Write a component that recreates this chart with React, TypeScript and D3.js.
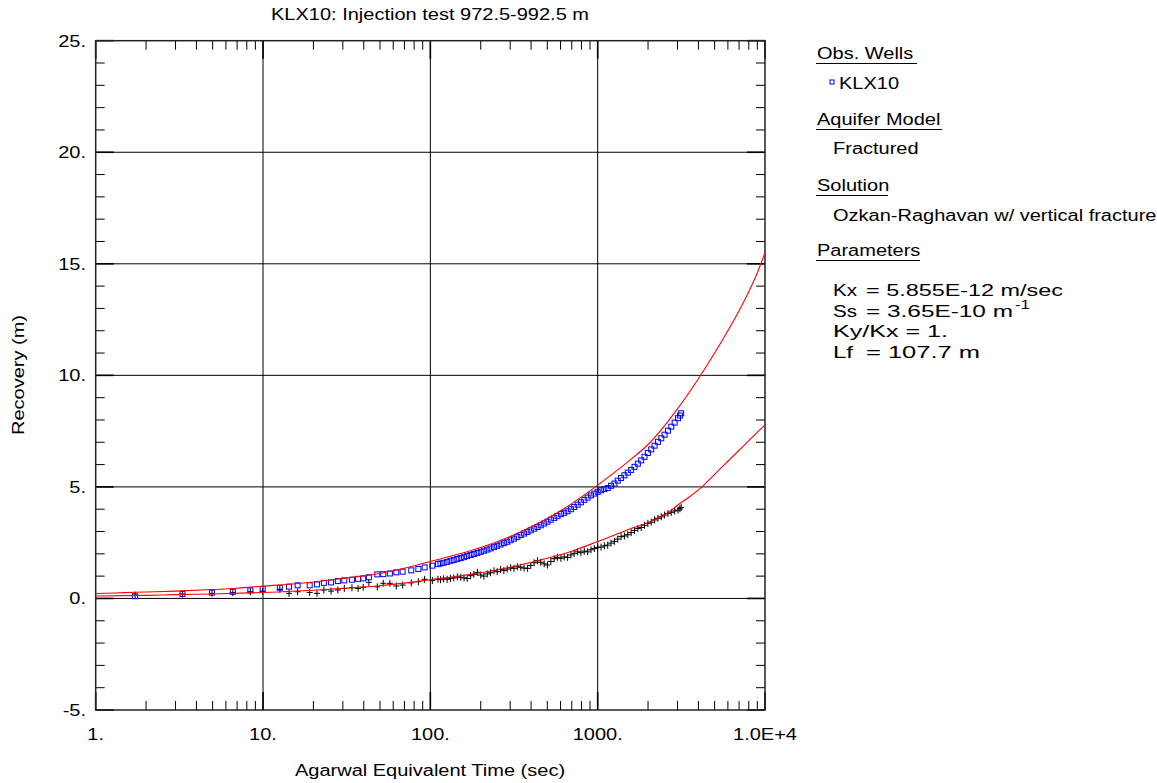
import React from "react";
import * as d3 from "d3";

// ---- data ----
const timeSec: number[] = [
  1.72, 3.3, 4.95, 6.6, 8.4, 9.95, 12.6, 14.3, 16.1, 19.0, 21.0, 23.1, 25.5, 28.0, 30.6, 34.0, 37.0, 39.7,
  42.9, 48.2, 52.3, 57.3, 62.6, 68.3, 76.9, 84.8, 92.4, 102.8, 111,
  115, 120, 126, 132, 138, 145, 152, 159, 166, 174, 182, 191, 200, 209, 219, 229, 240, 251, 263, 275,
  288, 302, 316, 331, 347, 363, 380, 398, 417, 437, 457, 479, 501, 525, 550, 575, 603, 631, 661, 692,
  724, 759, 794, 832, 871, 912, 955, 1000, 1047, 1096, 1148, 1202, 1259, 1318, 1380, 1445, 1514, 1585,
  1660, 1738, 1820, 1905, 1995, 2089, 2188, 2291, 2399, 2512, 2630, 2754, 2884, 3020, 3100, 3155,
];

const recoveryKLX10: number[] = [
  0.10, 0.20, 0.26, 0.30, 0.36, 0.43, 0.48, 0.53, 0.59, 0.59, 0.63, 0.70, 0.72, 0.78, 0.81, 0.84, 0.88, 0.90,
  0.95, 1.08, 1.09, 1.12, 1.17, 1.20, 1.26, 1.32, 1.39, 1.47, 1.54,
  1.57, 1.60, 1.64, 1.69, 1.72, 1.77, 1.81, 1.85, 1.90, 1.95, 1.99, 2.04, 2.09, 2.14, 2.19, 2.24, 2.30, 2.36, 2.42, 2.48,
  2.54, 2.61, 2.68, 2.76, 2.84, 2.91, 2.98, 3.05, 3.13, 3.20, 3.28, 3.36, 3.44, 3.53, 3.61, 3.69, 3.78, 3.84, 3.91, 4.00,
  4.10, 4.20, 4.31, 4.42, 4.52, 4.62, 4.70, 4.78, 4.85, 4.90, 4.95, 5.05, 5.15, 5.28, 5.40, 5.52, 5.64, 5.76,
  5.90, 6.04, 6.19, 6.35, 6.52, 6.68, 6.85, 7.02, 7.18, 7.34, 7.52, 7.70, 7.88, 8.08, 8.20, 8.30,
];

const recoverySecond: number[] = [
  0.15, 0.20, 0.23, 0.26, 0.30, 0.32, 0.41, 0.23, 0.30, 0.27, 0.23, 0.38, 0.33, 0.38, 0.45, 0.48, 0.45, 0.50,
  0.72, 0.52, 0.68, 0.68, 0.56, 0.60, 0.70, 0.75, 0.86, 0.80, 0.86,
  0.84, 0.88, 0.86, 0.90, 0.92, 0.97, 0.95, 0.92, 0.90, 1.02, 1.08, 1.17, 1.05, 1.00, 1.10, 1.15, 1.24, 1.20, 1.30, 1.25,
  1.32, 1.38, 1.35, 1.42, 1.40, 1.36, 1.35, 1.48, 1.60, 1.69, 1.62, 1.55, 1.50, 1.66, 1.78, 1.84, 1.80, 1.86, 1.84, 1.95,
  2.02, 2.09, 2.05, 2.12, 2.09, 2.18, 2.24, 2.29, 2.30, 2.36, 2.39, 2.48, 2.56, 2.66, 2.77, 2.80, 2.86, 2.95,
  3.05, 3.14, 3.18, 3.28, 3.37, 3.42, 3.52, 3.59, 3.66, 3.74, 3.81, 3.86, 3.92, 3.96, 4.02, 4.08,
];

const modelTimeUpper: number[] = [1, 1.5, 2, 3, 5, 7, 10, 15, 20, 30, 50, 70, 100, 150, 200, 300, 500, 700, 1000, 1500, 2000, 3000, 4000, 5000, 6000, 7000, 8000, 9000, 10000];
const modelUpper: number[] = [0.22, 0.26, 0.29, 0.33, 0.40, 0.46, 0.55, 0.65, 0.74, 0.90, 1.12, 1.35, 1.66, 2.0, 2.28, 2.78, 3.58, 4.25, 5.08, 6.1, 6.9, 8.5, 9.85, 11.0, 12.0, 12.9, 13.75, 14.6, 15.5];

const modelTimeLower: number[] = [1, 2, 3, 5, 10, 20, 30, 50, 100, 200, 300, 500, 700, 1000, 1500, 2300, 2750, 3000, 3460, 4200, 5000, 6000, 8000, 10000];
const modelLower: number[] = [0.11, 0.14, 0.17, 0.20, 0.27, 0.37, 0.45, 0.57, 0.84, 1.15, 1.40, 1.80, 2.12, 2.55, 3.07, 3.60, 3.95, 4.18, 4.50, 5.0, 5.56, 6.15, 7.07, 7.78];

const xTicks: number[] = [1, 10, 100, 1000, 10000];
const xTickLabels: string[] = ["1.", "10.", "100.", "1000.", "1.0E+4"];
const yTicks: number[] = [-5, 0, 5, 10, 15, 20, 25];
const yTickLabels: string[] = ["-5.", "0.", "5.", "10.", "15.", "20.", "25."];

const titleText = "KLX10: Injection test 972.5-992.5 m";
const xTitle = "Agarwal Equivalent Time (sec)";
const yTitle = "Recovery (m)";

// ---- layout ----
const W = 1157;
const H = 783;
const L = 95.7;
const R = 765;
const T = 40.7;
const B = 710;
const FONT = "'Liberation Sans', Arial, sans-serif";
const SX = 1.25;

const x = d3.scaleLog().domain([1, 10000]).range([L, R]);
const y = d3.scaleLinear().domain([-5, 25]).range([B, T]);

function Txt(props: { x: number; y: number; anchor?: string; rotate?: number; size?: number; children: React.ReactNode; fill?: string }) {
  const { anchor = "start", rotate = 0, size = 16, fill = "#000" } = props;
  return (
    <text
      transform={`translate(${props.x},${props.y}) rotate(${rotate}) scale(${SX},1)`}
      textAnchor={anchor}
      fontFamily={FONT}
      fontSize={size}
      fill={fill}
    >
      {props.children}
    </text>
  );
}

function FitTxt(props: { x: number; y: number; len: number; size?: number; children: React.ReactNode }) {
  const { size = 16 } = props;
  return (
    <text
      x={props.x}
      y={props.y}
      textLength={props.len}
      lengthAdjust="spacingAndGlyphs"
      fontFamily={FONT}
      fontSize={size}
      fill="#000"
    >
      {props.children}
    </text>
  );
}

export default function App() {
  const minorX: number[] = [];
  for (let d = 1; d < 10000; d *= 10) for (let k = 2; k <= 9; k++) minorX.push(d * k);
  const minorY: number[] = d3.range(-5, 26, 1).filter((v) => v % 5 !== 0);

  const upperLine = d3
    .line<number>()
    .x((_, i) => x(modelTimeUpper[i]))
    .y((v) => y(v))
    .curve(d3.curveMonotoneX)(modelUpper) as string;
  const lowerLine = d3
    .line<number>()
    .x((_, i) => x(modelTimeLower[i]))
    .y((v) => y(v))
    .curve(d3.curveMonotoneX)(modelLower) as string;

  const tickLen = 9;
  const majLen = 18;

  return (
    <svg width={W} height={H} style={{ position: "absolute", left: 0, top: 0, background: "#fff" }}>
      <rect x={0} y={0} width={W} height={H} fill="#fff" />
      {/* grid */}
      {xTicks.slice(1, -1).map((t) => (
        <line key={"gx" + t} x1={x(t)} x2={x(t)} y1={T} y2={B} stroke="#000" strokeWidth={1} />
      ))}
      {yTicks.slice(1, -1).map((v) => (
        <line key={"gy" + v} x1={L} x2={R} y1={y(v)} y2={y(v)} stroke="#000" strokeWidth={1} />
      ))}
      {/* minor ticks */}
      {minorX.map((t) => (
        <g key={"mx" + t}>
          <line x1={x(t)} x2={x(t)} y1={T} y2={T + tickLen} stroke="#000" />
          <line x1={x(t)} x2={x(t)} y1={B} y2={B - tickLen} stroke="#000" />
        </g>
      ))}
      {minorY.map((v) => (
        <g key={"my" + v}>
          <line x1={L} x2={L + tickLen} y1={y(v)} y2={y(v)} stroke="#000" />
          <line x1={R} x2={R - tickLen} y1={y(v)} y2={y(v)} stroke="#000" />
        </g>
      ))}
      {yTicks.map((v) => (
        <g key={"My" + v}>
          <line x1={L} x2={L + majLen} y1={y(v)} y2={y(v)} stroke="#000" strokeWidth={1.6} />
          <line x1={R} x2={R - majLen} y1={y(v)} y2={y(v)} stroke="#000" strokeWidth={1.6} />
        </g>
      ))}
      {xTicks.map((t) => (
        <g key={"Mx" + t}>
          <line x1={x(t)} x2={x(t)} y1={T} y2={T + majLen} stroke="#000" strokeWidth={1.6} />
          <line x1={x(t)} x2={x(t)} y1={B} y2={B - majLen} stroke="#000" strokeWidth={1.6} />
        </g>
      ))}
      {/* frame */}
      <rect x={L} y={T} width={R - L} height={B - T} fill="none" stroke="#222" strokeWidth={1.5} />

      {/* data: second series (crosses) */}
      {timeSec.map((t, i) => {
        const cx = x(t);
        const cy = y(recoverySecond[i]);
        return (
          <g key={"c" + i} stroke="#000" strokeWidth={1}>
            <line x1={cx - 3} x2={cx + 3} y1={cy} y2={cy} />
            <line x1={cx} x2={cx} y1={cy - 3.5} y2={cy + 3.5} />
          </g>
        );
      })}
      {/* data: KLX10 squares */}
      {timeSec.map((t, i) => (
        <rect
          key={"s" + i}
          x={x(t) - 2.5}
          y={y(recoveryKLX10[i]) - 2.5}
          width={5}
          height={5}
          fill="none"
          stroke="#0000ff"
          strokeWidth={1}
        />
      ))}
      {/* model curves */}
      <path d={upperLine} fill="none" stroke="#ff0000" strokeWidth={1.1} />
      <path d={lowerLine} fill="none" stroke="#ff0000" strokeWidth={1.1} />

      {/* tick labels */}
      {yTicks.map((v, i) => (
        <Txt key={"yl" + v} x={86} y={y(v) + 6} anchor="end">
          {yTickLabels[i]}
        </Txt>
      ))}
      {xTicks.map((t, i) => (
        <Txt key={"xl" + t} x={x(t)} y={740} anchor="middle">
          {xTickLabels[i]}
        </Txt>
      ))}

      {/* titles */}
      <Txt x={430} y={20} anchor="middle">{titleText}</Txt>
      <Txt x={430} y={776} anchor="middle">{xTitle}</Txt>
      <Txt x={24} y={375} anchor="middle" rotate={-90}>{yTitle}</Txt>

      {/* legend */}
      <Txt x={817} y={59}>Obs. Wells</Txt>
      <line x1={816} x2={917} y1={63.5} y2={63.5} stroke="#000" />
      <rect x={830} y={80} width={4} height={4} fill="none" stroke="#0000ff" strokeWidth={1} />
      <Txt x={839} y={89}>KLX10</Txt>

      <Txt x={817} y={125}>Aquifer Model</Txt>
      <line x1={816} x2={942} y1={129.5} y2={129.5} stroke="#000" />
      <Txt x={833} y={154}>Fractured</Txt>

      <Txt x={817} y={191}>Solution</Txt>
      <line x1={816} x2={888} y1={195.5} y2={195.5} stroke="#000" />
      <Txt x={833} y={221}>Ozkan-Raghavan w/ vertical fracture</Txt>

      <Txt x={817} y={256}>Parameters</Txt>
      <line x1={816} x2={920} y1={260.5} y2={260.5} stroke="#000" />
      <FitTxt x={833} y={296} len={24}>Kx</FitTxt>
      <FitTxt x={866} y={296} len={197}>= 5.855E-12 m/sec</FitTxt>
      <FitTxt x={833} y={317} len={24}>Ss</FitTxt>
      <FitTxt x={866} y={317} len={147}>= 3.65E-10 m</FitTxt>
      <FitTxt x={1015} y={309} len={15} size={12}>-1</FitTxt>
      <FitTxt x={833} y={337} len={115}>Ky/Kx = 1.</FitTxt>
      <FitTxt x={833} y={358} len={20}>Lf</FitTxt>
      <FitTxt x={866} y={358} len={114}>= 107.7 m</FitTxt>
    </svg>
  );
}
